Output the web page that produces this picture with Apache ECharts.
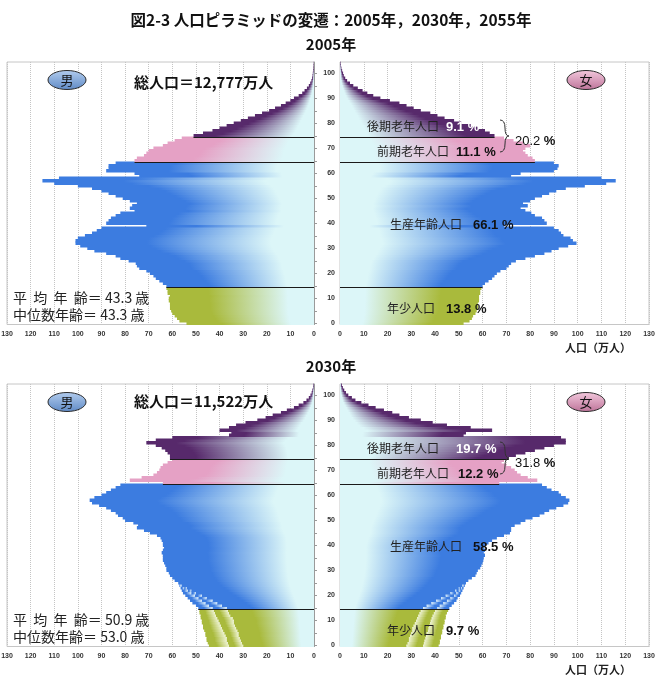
<!DOCTYPE html>
<html lang="ja">
<head>
<meta charset="UTF-8">
<title>人口ピラミッドの変遷</title>
<style>
  html, body { margin: 0; padding: 0; background: #fff; }
  #box { width: 662px; height: 677px; }
</style>
</head>
<body>
<div id="box"></div>
<script src="https://cdn.jsdelivr.net/npm/echarts@6.0.0/dist/echarts.min.js"></script>
<script>
// 年齢の区分（0〜104歳，100以上は細い尾）
var ages = [];
for (var i = 0; i <= 104; i++) ages.push(String(i));
var xTicks = [0, 10, 20, 30, 40, 50, 60, 70, 80, 90, 100, 110, 120, 130];

// 2005年 男（万人）
var m2005 = [54, 57, 58, 59, 60, 60.5, 61, 61, 61, 61.5,
  61.5, 61, 62, 62, 62.5, 62.5, 64, 65.5, 67, 68,
  69.5, 71, 74, 75, 75.5, 78.5, 82, 84, 88, 93,
  96, 99, 101, 101, 100, 97, 94, 92, 90, 71,
  88, 87, 86, 84, 82, 76, 78, 77, 75, 78,
  81, 84, 87, 90, 94, 100, 110, 115, 108, 74,
  76, 88, 87, 87, 84, 76, 75, 72, 71, 70,
  68, 64, 62, 59, 56, 51, 47, 43, 40, 37,
  34, 31, 28, 25, 22, 19, 16.5, 14, 12, 10,
  8.5, 6.5, 5, 4, 3, 2.2, 1.6, 1.1, 0.8, 0.6,
  0.5, 0.3, 0.2, 0.15, 0.1];

// 2005年 女
var f2005 = [52, 54.5, 55.5, 56, 57, 57.5, 58, 58, 58, 58.5,
  58.5, 58.5, 59, 59, 59.5, 60, 61, 62.5, 64, 65,
  66, 67.5, 70, 71, 72, 74, 78, 82, 86, 89,
  92, 96, 99.5, 98, 97, 94, 93, 92, 90, 69,
  87, 86, 85, 82, 80.5, 78, 76, 79, 77, 80,
  82, 85, 88, 91, 95, 103, 112, 116, 110, 72,
  76, 90, 91.5, 92, 90, 82, 81, 79, 78, 77,
  78, 80, 77, 73, 69, 65, 63, 61, 58, 55,
  51, 48, 44, 41, 38, 34, 31, 28, 25, 21,
  17, 14, 11.5, 9.5, 7.5, 5.6, 4.2, 3, 2.2, 1.6,
  1.3, 0.9, 0.6, 0.4, 0.2];

// 2030年 男（中位推計）
var m2030 = [36, 36.5, 37, 37, 37.5, 38, 38.5, 39, 39.5, 40,
  40.5, 41, 41.5, 42, 42.5, 43, 44.5, 46, 47.5, 49,
  50.5, 52, 53.5, 55, 56.5, 57.5, 59, 60, 61, 61.5,
  62.5, 62.5, 63, 63.5, 64, 64, 64, 64.5, 64, 63.5,
  64, 64, 64.5, 65, 66.5, 69.5, 72, 75, 74.5, 76.5,
  80, 81, 83, 84, 86, 88, 91, 94, 95, 93,
  90, 88, 86, 84, 82, 64, 78, 73, 68, 66.5,
  65.5, 65, 64, 62, 60, 61, 61, 62, 63, 64.5,
  67, 71, 67, 60, 36, 35, 40, 36, 33, 29,
  24, 20.5, 17.5, 14, 11.5, 8.5, 6.5, 4.5, 3.2, 2.2,
  1.5, 1, 0.7, 0.4, 0.3];
// 2030年 男 高位・低位推計（0〜24歳）
var m2030High = [44.5, 45, 45.5, 45.5, 46, 46, 46.5, 47, 47, 47.5,
  47.5, 48, 48, 48.5, 48.5, 49, 50, 51.5, 52.5, 53.5,
  54.5, 55.5, 56, 56.5, 57];
var m2030Low = [30, 30.5, 31, 31.5, 32, 32, 32.5, 33, 33.5, 34,
  34, 34.5, 35.5, 36, 36.5, 37, 39, 41, 43, 45.5,
  47.5, 50, 52, 54, 56];

// 2030年 女（中位推計）
var f2030 = [35, 35.3, 35.6, 36, 36.2, 36.5, 37, 37.3, 37.6, 38,
  38.2, 38.6, 39, 39.5, 40, 41, 42, 43.5, 45, 46.5,
  48, 49, 50, 51, 52, 53, 54, 55.5, 57, 57.5,
  58, 59, 59.5, 60, 60.3, 60.5, 61, 60.5, 61, 60.5,
  61, 62.5, 64, 66, 69, 71.5, 72, 72, 73.5, 76,
  78, 81, 84, 86, 88, 91, 94, 96, 96.5, 95,
  93, 92, 89, 87, 85, 67, 83, 79, 76, 74.5,
  73.5, 72, 70, 68, 69, 71, 74, 78, 82, 86,
  90, 95, 95, 93, 52, 53, 64, 55, 45, 39,
  34, 29, 25, 22, 18.5, 15, 12, 9, 6.5, 5,
  3.5, 2.5, 1.8, 1.2, 0.8];
var f2030High = [41.5, 42, 42, 42.5, 42.5, 43, 43, 43.5, 43.5, 44,
  44, 44.5, 44.5, 45, 45.5, 46, 47, 48, 49, 49.5,
  50.5, 51, 51.5, 52, 52.5];
var f2030Low = [28, 28.5, 29, 29, 29.5, 30, 30.5, 30.5, 31, 31.5,
  32, 32.5, 33, 33.5, 34, 35, 36.5, 38.5, 40.5, 42.5,
  44.5, 46.5, 48.5, 50, 51.5];

// 区分の境界（年少 / 生産年齢 / 前期老年 / 後期老年）
var groupStarts = [15, 65, 75];

var jp = '"Noto Sans CJK JP", sans-serif';
var latin = '"Liberation Sans", Arial, sans-serif';

var light = '#dcf6f8';
var groupColors = [
  { col: '#a9ba3c', pale: '#eef3d2', mid: 0.72 },  // 年少
  { col: '#3c7ce0', pale: '#d6ebfb', mid: 0.70 },  // 生産年齢
  { col: '#e5a1c5', pale: '#f4d6e5', mid: 0.68 },  // 前期老年
  { col: '#57296b', pale: '#cbbbd6', mid: 0.82 }   // 後期老年
];

function groupOf(a) {
  if (a >= 75) return 3;
  if (a >= 65) return 2;
  if (a >= 15) return 1;
  return 0;
}

function buildData(vals, hi, lo) {
  return vals.map(function (v, a) {
    var h = (hi && a < hi.length) ? hi[a] : v;
    var l = (lo && a < lo.length) ? lo[a] : v;
    return [v, a, h, l];
  });
}

function lineData(vals, hi) {
  return groupStarts.map(function (a) {
    return [(hi && a < hi.length) ? hi[a] : vals[a], a];
  });
}

// side: -1 = 男（左へ伸びる），1 = 女
function renderBars(side) {
  return function (params, api) {
    var v = api.value(0), age = api.value(1), hi = api.value(2), lo = api.value(3);
    var h = api.size([0, 1])[1];
    var g = groupColors[groupOf(age)];
    function rect(from, to, stops) {
      var p = api.coord([from, age]), q = api.coord([to, age]);
      return {
        type: 'rect',
        shape: { x: Math.min(p[0], q[0]), y: p[1] - h / 2 - 0.5, width: Math.abs(q[0] - p[0]), height: h + 1 },
        style: {
          fill: {
            type: 'linear', x: side < 0 ? 1 : 0, y: 0, x2: side < 0 ? 0 : 1, y2: 0,
            colorStops: stops, global: false
          },
          lineWidth: 0
        }
      };
    }
    var full = [
      { offset: 0, color: light },
      { offset: 0.18, color: light },
      { offset: g.mid, color: g.col },
      { offset: 1, color: g.col }
    ];
    var band = [
      { offset: 0, color: g.pale },
      { offset: 0.6, color: g.col },
      { offset: 1, color: g.col }
    ];
    var kids = [rect(0, lo, full)];
    if (v > lo) kids.push(rect(lo, v, band));
    if (hi > v) kids.push(rect(v, hi, band));
    return { type: 'group', children: kids };
  };
}

function renderLine(params, api) {
  var a = api.value(1);
  var h = api.size([0, 1])[1];
  var p0 = api.coord([0, a]), p1 = api.coord([api.value(0), a]);
  var y = Math.round(p0[1] + h / 2) + 0.5;
  return {
    type: 'line',
    shape: { x1: p0[0], y1: y, x2: p1[0], y2: y },
    style: { stroke: '#1a1a1a', lineWidth: 1.2 }
  };
}

var tops = [62, 384];
var plotH = 262.5;

var grids = [], xAxes = [], yAxes = [], series = [];

function addPanel(idx, top, male) {
  grids.push({
    left: male ? 7 : 340, top: top, width: male ? 307 : 309, height: plotH,
    show: true, borderColor: '#c6c6c6', borderWidth: 1, backgroundColor: 'transparent',
    containLabel: false, outerBoundsMode: 'none'
  });
  xAxes.push({
    gridIndex: idx, type: 'value', min: 0, max: 130, interval: 10, inverse: male,
    axisLine: { show: false }, axisTick: { show: false },
    axisLabel: {
      fontSize: 7, fontWeight: 'bold', color: '#333', margin: 6, fontFamily: latin,
      formatter: function (v) { return xTicks.indexOf(v) >= 0 ? String(v) : ''; }
    },
    splitLine: { show: true, lineStyle: { type: 'dotted', color: '#c4c4c4', width: 1 } }
  });
  yAxes.push({
    gridIndex: idx, type: 'category', data: ages, boundaryGap: true,
    position: male ? 'right' : 'left',
    axisLine: { show: male, lineStyle: { color: '#9a9a9a' } },
    axisTick: {
      show: male, alignWithLabel: true, length: 3, inside: false,
      interval: function (i) { return i % 5 === 0 && i <= 100; },
      lineStyle: { color: '#9a9a9a' }
    },
    axisLabel: {
      show: !male, fontSize: 7, fontWeight: 'bold', color: '#333', margin: 5, fontFamily: latin,
      interval: function (i) { return i % 10 === 0 && i <= 100; }
    },
    splitLine: { show: false }
  });
}

addPanel(0, tops[0], true);
addPanel(1, tops[0], false);
addPanel(2, tops[1], true);
addPanel(3, tops[1], false);

function addSeries(idx, side, vals, hi, lo) {
  series.push({
    type: 'custom', xAxisIndex: idx, yAxisIndex: idx,
    renderItem: renderBars(side), encode: { x: 0, y: 1 },
    data: buildData(vals, hi, lo), z: 2, silent: true
  });
  series.push({
    type: 'custom', xAxisIndex: idx, yAxisIndex: idx,
    renderItem: renderLine, encode: { x: 0, y: 1 },
    data: lineData(vals, hi), z: 3, silent: true
  });
}

addSeries(0, -1, m2005);
addSeries(1, 1, f2005);
addSeries(2, -1, m2030, m2030High, m2030Low);
addSeries(3, 1, f2030, f2030High, f2030Low);

// 注記
var totals = ['総人口＝12,777万人', '総人口＝11,522万人'];
var lateShare = ['9.1 %', '19.7 %'];
var earlyShare = ['11.1 %', '12.2 %'];
var elderShare = ['20.2', '31.8'];
var workShare = ['66.1 %', '58.5 %'];
var youngShare = ['13.8 %', '9.7 %'];
var meanAge = ['43.3', '50.9'];
var medianAge = ['43.3', '53.0'];

function txt(x, y, s, size, weight, color, align, family) {
  return {
    type: 'text', x: x, y: y, z: 100,
    style: {
      text: s, fontSize: size, fontWeight: weight || 'normal', fill: color || '#222',
      fontFamily: family || jp, textAlign: align || 'left', textVerticalAlign: 'middle'
    }
  };
}

function badge(cx, cy, s, c1, c2) {
  return [{
    type: 'ellipse', z: 99,
    shape: { cx: cx, cy: cy, rx: 19, ry: 9.5 },
    style: {
      fill: {
        type: 'linear', x: 0, y: 0, x2: 0, y2: 1,
        colorStops: [{ offset: 0, color: c1 }, { offset: 1, color: c2 }]
      },
      stroke: '#2b2b2b', lineWidth: 1
    }
  }, txt(cx, cy + 0.5, s, 13, 'normal', '#111', 'center')];
}

function brace(x, y) {
  var st = { fill: 'none', stroke: '#333', lineWidth: 1 };
  return [
    { type: 'bezierCurve', z: 100, shape: { x1: x, y1: y, cpx1: x + 5, cpy1: y, x2: x + 5, y2: y + 8 }, style: st },
    { type: 'bezierCurve', z: 100, shape: { x1: x + 5, y1: y + 8, cpx1: x + 5, cpy1: y + 16, x2: x + 9, y2: y + 16 }, style: st },
    { type: 'bezierCurve', z: 100, shape: { x1: x + 9, y1: y + 16, cpx1: x + 5, cpy1: y + 16, x2: x + 5, y2: y + 24 }, style: st },
    { type: 'bezierCurve', z: 100, shape: { x1: x + 5, y1: y + 24, cpx1: x + 5, cpy1: y + 32, x2: x, y2: y + 32 }, style: st }
  ];
}

var graphics = [
  txt(331, 20, '図2-3 人口ピラミッドの変遷：2005年，2030年，2055年', 15.5, 'bold', '#111', 'center'),
  txt(331, 44, '2005年', 15, 'bold', '#111', 'center'),
  txt(331, 366, '2030年', 15, 'bold', '#111', 'center')
];

[0, 1].forEach(function (k) {
  var d = k * 322;
  graphics = graphics.concat(badge(67, 80 + d, '男', '#b3cdee', '#5f8ac6'));
  graphics = graphics.concat(badge(586, 80 + d, '女', '#f3c9dd', '#bd7399'));
  graphics.push(txt(134, 82 + d - (k ? 3 : 0), totals[k], 15, 'bold', '#111'));
  graphics.push(txt(367, 126 + d, '後期老年人口', 12, 'normal', '#222'));
  graphics.push(txt(k ? 456 : 446, 127 + d, lateShare[k], 13, 'bold', '#ffffff', 'left', latin));
  graphics.push(txt(377, 151 + d, '前期老年人口', 12, 'normal', '#222'));
  graphics.push(txt(k ? 458 : 456, 152 + d, earlyShare[k], 13, 'bold', '#111', 'left', latin));
  graphics = graphics.concat(brace(500, 120 + d));
  graphics.push({
    type: 'text', x: 515, y: 141 + d, z: 100,
    style: {
      text: '{n|' + elderShare[k] + '} {p|%}', textVerticalAlign: 'middle',
      rich: {
        n: { fontSize: 13, fontFamily: latin, fill: '#111' },
        p: { fontSize: 13, fontFamily: latin, fontWeight: 'bold', fill: '#111' }
      }
    }
  });
  graphics.push(txt(390, 224 + d, '生産年齢人口', 12, 'normal', '#222'));
  graphics.push(txt(473, 225 + d, workShare[k], 13, 'bold', '#111', 'left', latin));
  graphics.push(txt(387, 308 + d, '年少人口', 12, 'normal', '#222'));
  graphics.push(txt(446, 309 + d, youngShare[k], 13, 'bold', '#111', 'left', latin));
  graphics.push(txt(13, 298 + d, '平  均  年  齢＝ ' + meanAge[k] + ' 歳', 14, 'normal', '#222'));
  graphics.push(txt(13, 315 + d, '中位数年齢＝ ' + medianAge[k] + ' 歳', 14, 'normal', '#222'));
  graphics.push(txt(598, 348 + d, '人口（万人）', 11, 'bold', '#222', 'center'));
});

var myChart = echarts.init(document.getElementById('box'), null, { renderer: 'canvas' });
myChart.setOption({
  animation: false,
  backgroundColor: '#ffffff',
  textStyle: { fontFamily: jp },
  grid: grids,
  xAxis: xAxes,
  yAxis: yAxes,
  series: series,
  graphic: graphics
});
</script>
</body>
</html>
